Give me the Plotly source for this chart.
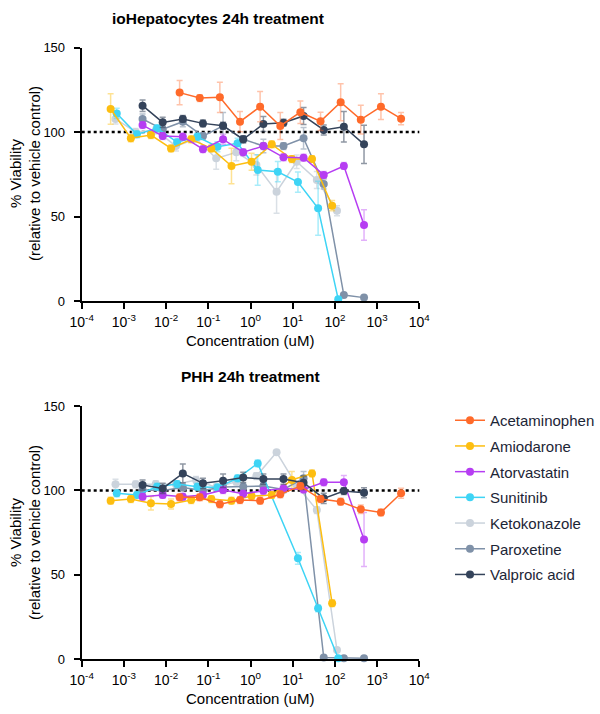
import plotly.graph_objects as go

# ---------------- data ----------------
drugs = ["Acetaminophen", "Amiodarone", "Atorvastatin", "Sunitinib",
         "Ketokonazole", "Paroxetine", "Valproic acid"]
colors = ["#FF6A2A", "#FDBE10", "#B63DF2", "#3ED4F5", "#CBD3DC", "#7F91A8", "#34435A"]
err_colors = ["rgba(255,106,42,0.40)", "rgba(253,190,16,0.45)", "rgba(182,61,242,0.40)",
              "rgba(62,212,245,0.45)", "rgba(203,211,220,0.70)", "rgba(127,145,168,0.55)",
              "rgba(52,67,90,0.55)"]

# concentrations (uM)
conc_acet = [0.0209, 0.0627, 0.188, 0.564, 1.69, 5.08, 15.2, 45.7, 137, 411, 1233, 3700]
conc_amio = [0.000485, 0.00146, 0.00437, 0.0131, 0.0393, 0.118, 0.354, 1.06, 3.19, 9.56, 28.7, 86]
conc_suni = [0.000677, 0.00203, 0.0061, 0.0183, 0.0549, 0.165, 0.494, 1.48, 4.44, 13.3, 40, 120]
conc_keto = [0.000632, 0.0019, 0.00569, 0.0171, 0.0512, 0.154, 0.461, 1.38, 4.15, 12.4, 37.3, 112]
conc_parox = [0.00277, 0.0083, 0.0249, 0.0747, 0.224, 0.672, 2.02, 6.05, 18.1, 54.4, 163, 490]
conc_valp = [0.00277, 0.0083, 0.0249, 0.0747, 0.224, 0.672, 2.02, 6.05, 18.1, 54.4, 163, 490]
conc_ator = [0.00277, 0.0083, 0.0249, 0.0747, 0.224, 0.672, 2.02, 6.05, 18.1, 54.4, 163, 490]

# ioHepatocytes 24h (% viability, SD)
io_acet = [123.3, 120.1, 120.5, 106.1, 115.0, 103.6, 111.7, 106.3, 117.6, 107.3, 115.0, 107.9]
io_acet_sd = [7.2, 2.0, 9.0, 6.0, 9.0, 8.0, 6.7, 5.4, 11.0, 8.5, 7.6, 3.6]
io_amio = [113.6, 96.3, 98.2, 90.3, 95.7, 90.3, 79.9, 82.4, 92.7, 84.0, 84.0, 56.4]
io_amio_sd = [9.0, 2.0, 2.0, 2.0, 2.0, 2.0, 10.5, 5.0, 2.0, 2.0, 2.0, 3.0]
io_ator = [104.1, 97.6, 97.2, 89.8, 95.7, 88.0, 91.7, 85.0, 84.8, 74.6, 79.9, 45.0]
io_ator_sd = [2.0, 2.0, 2.0, 2.0, 3.0, 2.0, 2.0, 2.0, 2.0, 2.0, 2.0, 9.0]
io_suni = [111.0, 98.6, 102.2, 94.0, 97.2, 91.3, 93.3, 77.5, 76.5, 70.4, 54.9, 1.0]
io_suni_sd = [3.0, 2.0, 2.0, 2.0, 2.0, 3.0, 3.0, 9.0, 6.0, 6.0, 16.0, 0.0]
io_keto = [107.7, 100.0, 101.0, 91.7, 96.0, 84.4, 88.0, 80.5, 64.7, 82.4, 71.6, 53.4]
io_keto_sd = [3.0, 2.0, 2.0, 3.0, 2.0, 6.4, 5.0, 6.0, 12.8, 4.0, 5.0, 3.0]
io_parox = [107.7, 101.6, 106.1, 97.6, 103.6, 95.7, 91.7, 91.7, 96.3, 69.2, 3.5, 2.0]
io_parox_sd = [3.0, 2.0, 3.0, 2.0, 8.0, 2.0, 4.0, 2.0, 6.4, 3.0, 1.0, 1.0]
io_valp = [115.6, 105.7, 107.7, 105.1, 103.7, 95.7, 104.7, 105.5, 109.5, 101.2, 103.1, 92.7]
io_valp_sd = [3.4, 3.0, 2.0, 2.0, 2.0, 2.0, 4.4, 2.0, 5.0, 3.0, 9.0, 11.3]

# PHH 24h (% viability, SD)
phh_acet = [95.9, 95.9, 91.8, 94.3, 93.9, 97.7, 102.6, 94.9, 93.3, 88.8, 87.0, 98.3]
phh_acet_sd = [2.0, 2.0, 2.0, 2.0, 2.0, 2.0, 2.0, 2.0, 2.0, 2.5, 2.0, 3.0]
phh_amio = [93.9, 94.9, 92.4, 92.0, 94.3, 94.9, 93.9, 96.7, 97.3, 106.2, 110.1, 33.2]
phh_amio_sd = [2.0, 2.0, 4.0, 3.0, 2.0, 2.0, 2.0, 2.0, 2.0, 5.0, 2.0, 2.0]
phh_ator = [96.3, 97.3, 96.3, 97.3, 100.2, 98.0, 99.8, 101.2, 100.6, 104.8, 104.8, 71.0]
phh_ator_sd = [2.0, 2.0, 2.0, 2.0, 2.0, 2.0, 2.0, 2.0, 2.0, 2.0, 4.0, 16.0]
phh_suni = [98.3, 97.3, 102.2, 103.8, 102.2, 101.8, 107.2, 116.0, None, 59.8, 30.2, 0.6]
phh_suni_sd = [2.0, 2.0, 2.0, 2.0, 2.0, 2.0, 2.0, 2.0, 0.0, 3.5, 2.0, 0.0]
phh_keto = [103.6, 103.6, 103.8, 103.6, 106.2, 101.8, 105.2, 108.5, 122.6, 103.0, 88.4, 5.5]
phh_keto_sd = [3.0, 2.0, 2.0, 2.0, 2.0, 2.0, 2.0, 2.0, 1.0, 2.0, 2.0, 1.0]
phh_parox = [100.2, 100.0, 101.8, 100.0, 102.0, 102.2, 102.6, 100.6, 107.2, 1.0, 0.6, 0.6]
phh_parox_sd = [2.0, 2.0, 2.0, 2.0, 2.0, 2.0, 2.0, 2.0, 4.0, 0.5, 0.5, 0.5]
phh_valp = [103.2, 101.2, 110.1, 104.2, 105.7, 107.7, 106.7, 106.7, 104.6, 95.3, 99.6, 98.6]
phh_valp_sd = [3.0, 3.0, 5.6, 3.0, 4.0, 3.0, 3.0, 3.0, 4.0, 3.0, 2.0, 3.0]

concs = [conc_acet, conc_amio, conc_ator, conc_suni, conc_keto, conc_parox, conc_valp]
io_vals = [io_acet, io_amio, io_ator, io_suni, io_keto, io_parox, io_valp]
io_sds = [io_acet_sd, io_amio_sd, io_ator_sd, io_suni_sd, io_keto_sd, io_parox_sd, io_valp_sd]
phh_vals = [phh_acet, phh_amio, phh_ator, phh_suni, phh_keto, phh_parox, phh_valp]
phh_sds = [phh_acet_sd, phh_amio_sd, phh_ator_sd, phh_suni_sd, phh_keto_sd, phh_parox_sd, phh_valp_sd]

xtick_vals = [1e-4, 1e-3, 1e-2, 1e-1, 1e0, 1e1, 1e2, 1e3, 1e4]
xtick_text = ["10<sup>-4</sup>", "10<sup>-3</sup>", "10<sup>-2</sup>", "10<sup>-1</sup>",
              "10<sup>0</sup>", "10<sup>1</sup>", "10<sup>2</sup>", "10<sup>3</sup>", "10<sup>4</sup>"]
ytick_vals = [0, 50, 100, 150]

FONT = "Arial, Liberation Sans, Helvetica, sans-serif"
W, H = 600, 714

fig = go.Figure()

# draw order: lighter ones underneath
order = [4, 5, 3, 1, 2, 6, 0]
for panel, (vals, sds, xa, ya) in enumerate([(io_vals, io_sds, "x", "y"), (phh_vals, phh_sds, "x2", "y2")]):
    for i in order:
        fig.add_trace(go.Scatter(
            x=concs[i], y=vals[i], xaxis=xa, yaxis=ya,
            mode="lines+markers", name=drugs[i],
            line=dict(color=colors[i], width=1.5),
            marker=dict(color=colors[i], size=8),
            error_y=dict(type="data", array=sds[i], color=err_colors[i], thickness=1.5, width=3),
            connectgaps=True, cliponaxis=False,
            showlegend=(panel == 1), legendgroup=drugs[i], legendrank=i + 1,
        ))

def px_x(p):
    return p / W

def px_y(p):
    return (H - p) / H

xdom = [px_x(81.7), px_x(419.3)]
axis_common = dict(showline=True, linecolor="black", linewidth=2, ticks="outside",
                   ticklen=6, tickwidth=2, tickcolor="black", showgrid=False, zeroline=False,
                   automargin=False)

xa_common = dict(axis_common, type="log", range=[-4, 4], domain=xdom,
                 tickvals=xtick_vals, ticktext=xtick_text, ticklabelstandoff=1,
                 tickfont=dict(family=FONT, size=14, color="black"))
ya_common = dict(axis_common, range=[0, 150], tickvals=ytick_vals, ticklabelstandoff=6,
                 tickfont=dict(family=FONT, size=13, color="black"))

fig.update_layout(
    template="none",
    width=W, height=H, margin=dict(l=0, r=0, t=0, b=0, pad=0),
    paper_bgcolor="white", plot_bgcolor="white",
    font=dict(family=FONT, color="black"),
    xaxis=dict(xa_common, anchor="y"),
    yaxis=dict(ya_common, anchor="x", domain=[px_y(301), px_y(47.5)]),
    xaxis2=dict(xa_common, anchor="y2"),
    yaxis2=dict(ya_common, anchor="x2", domain=[px_y(659.3), px_y(406)]),
    legend=dict(x=px_x(450), y=px_y(404), xanchor="left", yanchor="top",
                font=dict(family=FONT, size=15, color="#1c2536"),
                bgcolor="rgba(0,0,0,0)", traceorder="grouped", tracegroupgap=3.2),
    showlegend=True,
)

# dotted 100% reference lines
for xr, yr in [("x", "y"), ("x2", "y2")]:
    fig.add_shape(type="line", xref=f"{xr} domain", yref=yr, x0=0, x1=1, y0=100, y1=100,
                  line=dict(color="black", width=2.5, dash="dot"), layer="below")

annots = [
    dict(text="<b>ioHepatocytes 24h treatment</b>", x=px_x(218), y=px_y(18), size=15.5),
    dict(text="<b>PHH 24h treatment</b>", x=px_x(250), y=px_y(376), size=15.5),
    dict(text="Concentration (uM)", x=px_x(250), y=px_y(340), size=15),
    dict(text="Concentration (uM)", x=px_x(250), y=px_y(698), size=15),
]
for a in annots:
    fig.add_annotation(text=a["text"], x=a["x"], y=a["y"], xref="paper", yref="paper",
                       xanchor="center", yanchor="middle", showarrow=False,
                       font=dict(family=FONT, size=a["size"], color="black"))

for yc in [174, 533]:
    fig.add_annotation(text="% Viability", x=px_x(15), y=px_y(yc), xref="paper", yref="paper",
                       textangle=-90, showarrow=False, xanchor="center", yanchor="middle",
                       font=dict(family=FONT, size=15, color="black"))
    fig.add_annotation(text="(relative to vehicle control)", x=px_x(34), y=px_y(yc),
                       xref="paper", yref="paper", textangle=-90, showarrow=False,
                       xanchor="center", yanchor="middle",
                       font=dict(family=FONT, size=15, color="black"))

fig.write_html("out.html")
